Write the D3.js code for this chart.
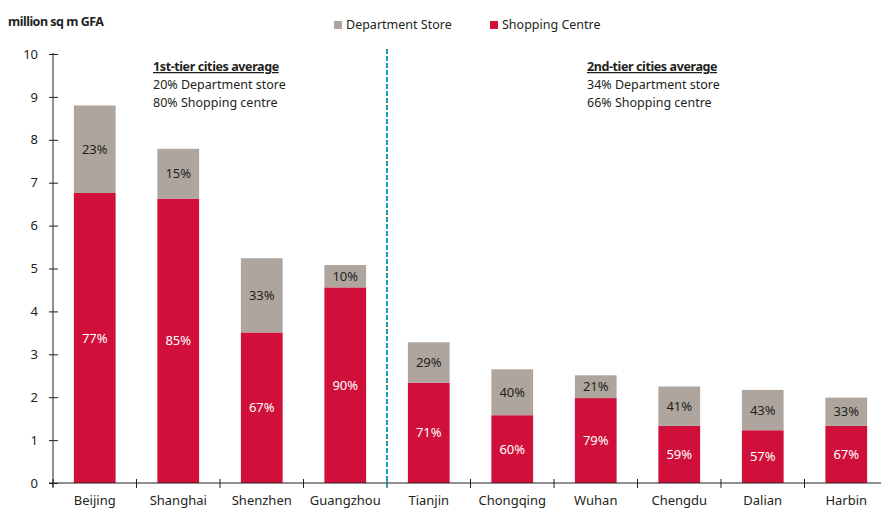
<!DOCTYPE html>
<html>
<head>
<meta charset="utf-8">
<script src="https://cdn.jsdelivr.net/npm/d3@7"></script>
<style>
  body { margin: 0; background: #fff; }
  svg { display: block; font-family: "Noto Sans", sans-serif; }
</style>
</head>
<body>
<div id="chart"></div>
<script>
"use strict";
// data
const cities = ['Beijing', 'Shanghai', 'Shenzhen', 'Guangzhou', 'Tianjin', 'Chongqing', 'Wuhan', 'Chengdu', 'Dalian', 'Harbin'];
const shoppingCentre = [6.76, 6.63, 3.51, 4.56, 2.34, 1.58, 1.98, 1.33, 1.23, 1.33];
const departmentStore = [2.04, 1.16, 1.73, 0.52, 0.94, 1.07, 0.53, 0.92, 0.94, 0.66];
const shoppingPct = ['77%', '85%', '67%', '90%', '71%', '60%', '79%', '59%', '57%', '67%'];
const departmentPct = ['23%', '15%', '33%', '10%', '29%', '40%', '21%', '41%', '43%', '33%'];
const yTicks = [0, 1, 2, 3, 4, 5, 6, 7, 8, 9, 10];
const tier1Note = ['1st-tier cities average', '20% Department store', '80% Shopping centre'];
const tier2Note = ['2nd-tier cities average', '34% Department store', '66% Shopping centre'];

const COLORS = { shop: '#d0103a', dept: '#aea69e', divider: '#1b9bc0', text: '#231f20' };

const width = 881, height = 509;
const margin = { left: 53, top: 54, bottom: 483 };

const svg = d3.select('#chart').append('svg')
    .attr('width', width)
    .attr('height', height);

const x = d3.scaleBand()
    .domain(cities)
    .range([margin.left, margin.left + 83.5 * cities.length])
    .paddingInner(0.5)
    .paddingOuter(0.25);
const y = d3.scaleLinear()
    .domain([0, 10])
    .range([margin.bottom, margin.top]);

const rows = cities.map((c, i) => ({
    city: c,
    shop: shoppingCentre[i],
    dept: departmentStore[i],
    shopPct: shoppingPct[i],
    deptPct: departmentPct[i]
}));

// bars
const bars = svg.append('g').attr('class', 'bars');
bars.selectAll('rect.shop')
    .data(rows)
    .enter().append('rect')
    .attr('class', 'shop')
    .attr('x', d => x(d.city))
    .attr('width', x.bandwidth())
    .attr('y', d => y(d.shop))
    .attr('height', d => y(0) - y(d.shop))
    .style('fill', COLORS.shop);
bars.selectAll('rect.dept')
    .data(rows)
    .enter().append('rect')
    .attr('class', 'dept')
    .attr('x', d => x(d.city))
    .attr('width', x.bandwidth())
    .attr('y', d => y(d.shop + d.dept))
    .attr('height', d => y(d.shop) - y(d.shop + d.dept))
    .style('fill', COLORS.dept);

// segment labels
const labels = svg.append('g').attr('class', 'labels')
    .attr('text-anchor', 'middle')
    .style('font-size', '13px');
labels.selectAll('text.shop')
    .data(rows)
    .enter().append('text')
    .attr('x', d => x(d.city) + x.bandwidth() / 2)
    .attr('y', d => (y(0) + y(d.shop)) / 2)
    .attr('dy', '0.35em')
    .style('fill', '#fff')
    .text(d => d.shopPct);
labels.selectAll('text.dept')
    .data(rows)
    .enter().append('text')
    .attr('x', d => x(d.city) + x.bandwidth() / 2)
    .attr('y', d => (y(d.shop) + y(d.shop + d.dept)) / 2)
    .attr('dy', '0.35em')
    .style('fill', COLORS.text)
    .text(d => d.deptPct);

// y axis
const yAxis = svg.append('g')
    .attr('transform', 'translate(' + margin.left + ',0)')
    .call(d3.axisLeft(y).tickValues(yTicks).tickSize(0).tickPadding(15));
yAxis.select('.domain').attr('d', 'M0,' + (y(10) - 1) + 'V' + (y(0) + 4)).style('stroke', COLORS.text);
yAxis.selectAll('.tick line').attr('x1', -4).attr('x2', 5).style('stroke', COLORS.text);
yAxis.selectAll('.tick text')
    .style('font-family', '"Noto Sans", sans-serif')
    .style('font-size', '13px')
    .style('fill', COLORS.text);

// x axis: ticks sit on band boundaries
const xAxis = svg.append('g')
    .attr('transform', 'translate(0,' + y(0) + ')');
xAxis.append('line')
    .attr('x1', margin.left - 4)
    .attr('x2', width)
    .style('stroke', COLORS.text);
xAxis.selectAll('line.tick')
    .data(cities)
    .enter().append('line')
    .attr('class', 'tick')
    .attr('x1', d => x(d) - x.step() * 0.25)
    .attr('x2', d => x(d) - x.step() * 0.25)
    .attr('y1', -4)
    .attr('y2', 5)
    .style('stroke', COLORS.text);
xAxis.selectAll('text')
    .data(cities)
    .enter().append('text')
    .attr('x', d => x(d) + x.bandwidth() / 2)
    .attr('y', 22)
    .attr('text-anchor', 'middle')
    .style('font-size', '13px')
    .style('fill', COLORS.text)
    .text(d => d);

// divider between tiers
const divX = x('Tianjin') - x.step() * 0.25;
svg.append('line')
    .attr('x1', divX).attr('x2', divX)
    .attr('y1', 49).attr('y2', y(0) + 3)
    .style('stroke', COLORS.divider)
    .style('stroke-width', 2)
    .style('stroke-dasharray', '5,2');

// tier notes
function note(lines, left) {
    const g = svg.append('g').style('fill', COLORS.text);
    g.selectAll('text')
        .data(lines)
        .enter().append('text')
        .attr('x', left)
        .attr('y', (d, i) => 71 + i * 18)
        .style('font-size', '12.5px')
        .style('font-weight', (d, i) => i === 0 ? 'bold' : 'normal')
        .style('text-decoration', (d, i) => i === 0 ? 'underline' : 'none')
        .style('letter-spacing', (d, i) => i === 0 ? '-0.4px' : '0')
        .text(d => d);
}
note(tier1Note, 153);
note(tier2Note, 587);

// legend
const legend = [
    { label: 'Department Store', color: COLORS.dept, x: 334 },
    { label: 'Shopping Centre', color: COLORS.shop, x: 490 }
];
const lg = svg.append('g').attr('class', 'legend');
lg.selectAll('rect')
    .data(legend)
    .enter().append('rect')
    .attr('x', d => d.x)
    .attr('y', 21)
    .attr('width', 8)
    .attr('height', 8)
    .style('fill', d => d.color);
lg.selectAll('text')
    .data(legend)
    .enter().append('text')
    .attr('x', d => d.x + 12)
    .attr('y', 29)
    .style('font-size', '12.5px')
    .style('fill', COLORS.text)
    .text(d => d.label);

// axis title
svg.append('text')
    .attr('x', 8)
    .attr('y', 26)
    .style('font-size', '12.5px')
    .style('font-weight', 'bold')
    .style('letter-spacing', '-0.5px')
    .style('fill', COLORS.text)
    .text('million sq m GFA');
</script>
</body>
</html>
